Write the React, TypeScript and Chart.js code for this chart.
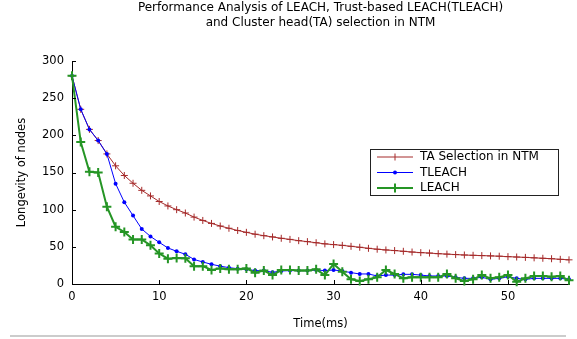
import React, { useEffect, useRef } from "react";
import { Chart, registerables } from "chart.js";

Chart.register(...registerables);

const titleLines = [
  "Performance Analysis of LEACH, Trust-based LEACH(TLEACH)",
  "and Cluster head(TA) selection in NTM",
];
const xAxisTitle = "Time(ms)";
const yAxisTitle = "Longevity of nodes";
const seriesNames = ["TA Selection in NTM", "TLEACH", "LEACH"];

const timeMs = [
  0, 1, 2, 3, 4, 5, 6, 7, 8, 9, 10, 11, 12, 13, 14, 15, 16, 17, 18, 19, 20, 21, 22, 23, 24, 25, 26, 27, 28, 29,
  30, 31, 32, 33, 34, 35, 36, 37, 38, 39, 40, 41, 42, 43, 44, 45, 46, 47, 48, 49, 50, 51, 52, 53, 54, 55, 56, 57,
];

const taSelection = [
  280, 235, 208, 193, 175, 159, 146, 135.5, 126, 118.5, 111, 105, 100, 95.5, 90, 85.5, 81.5, 78, 75, 72, 69.5, 67,
  65, 63.3, 61.5, 60, 58.3, 57, 55.5, 54, 53, 52, 50.7, 49.4, 48, 46.8, 45.8, 45, 44, 43, 42.2, 41.6, 40.8, 40.2,
  39.6, 39, 38.6, 38.2, 37.8, 37.4, 36.8, 36.3, 35.8, 35.2, 34.6, 34, 33.2, 32.5,
];

const tleach = [
  280, 235, 208, 193, 175, 135, 110, 92, 74, 64, 56, 48.5, 44, 40, 33, 29.6, 26.5, 24, 22, 20.6, 19.7, 18, 18, 15.7,
  17.5, 18, 18, 18, 18.8, 18, 18.8, 17.5, 15.3, 13.5, 13.5, 10.8, 12, 12, 13, 13, 12, 10.8, 10.8, 10.7, 9, 7.6, 7.6,
  9, 6.3, 7.6, 9.8, 7.6, 6.3, 7.6, 7.6, 7.6, 7.6, 6.3,
];

const leach = [
  280, 191, 151, 150, 104, 77, 70, 60, 60, 52, 41, 34, 35, 34.5, 24, 24, 18.8, 21, 19.7, 19.7, 21, 15.2, 18, 12,
  18.8, 19, 18, 18, 19.7, 12, 27, 16.6, 6.3, 4, 6.3, 9, 18.8, 13.5, 7.6, 9, 9, 9, 9, 13.5, 7.6, 4, 6.3, 12, 7.6, 9,
  12, 3, 7.6, 10.7, 10.7, 9.8, 10.7, 5,
];

const xTicks = [0, 10, 20, 30, 40, 50];
const yTicks = [0, 50, 100, 150, 200, 250, 300];

const RED = "#a52a2a";
const BLUE = "#0000ff";
const GREEN = "#259525";
const FONT = '"DejaVu Sans", sans-serif';

const overlayPlugin = {
  id: "overlay",
  afterDraw(chart: any) {
    const ctx = chart.ctx as CanvasRenderingContext2D;
    const area = chart.chartArea;
    const xs = chart.scales.x;
    const ys = chart.scales.y;
    ctx.save();
    // inner tick marks
    ctx.strokeStyle = "#000";
    ctx.lineWidth = 1;
    xTicks.forEach((v) => {
      const px = Math.round(xs.getPixelForValue(v)) + 0.5;
      ctx.beginPath();
      ctx.moveTo(px, area.bottom);
      ctx.lineTo(px, area.bottom - 4);
      ctx.stroke();
    });
    yTicks.forEach((v) => {
      const py = Math.round(ys.getPixelForValue(v)) + 0.5;
      ctx.beginPath();
      ctx.moveTo(area.left, py);
      ctx.lineTo(area.left + 4, py);
      ctx.stroke();
    });

    // title
    const cx = (area.left + area.right) / 2;
    ctx.fillStyle = "#000";
    ctx.font = `12px ${FONT}`;
    ctx.textAlign = "center";
    ctx.textBaseline = "middle";
    ctx.fillText(titleLines[0], cx, 8);
    ctx.fillText(titleLines[1], cx, 23);

    // axis titles
    ctx.font = `11.5px ${FONT}`;
    ctx.fillText(xAxisTitle, cx, 324);
    ctx.save();
    ctx.translate(22, (area.top + area.bottom) / 2);
    ctx.rotate(-Math.PI / 2);
    ctx.fillText(yAxisTitle, 0, 0);
    ctx.restore();

    // legend
    const bx = 370.5, by = 149.5, bw = 188, bh = 46;
    ctx.fillStyle = "#fff";
    ctx.fillRect(bx, by, bw, bh);
    ctx.strokeStyle = "#222";
    ctx.lineWidth = 1;
    ctx.strokeRect(bx, by, bw, bh);
    const rows = [157, 172.5, 188];
    const colors = [RED, BLUE, GREEN];
    const widths = [1, 1, 2];
    rows.forEach((ry, i) => {
      ctx.strokeStyle = colors[i];
      ctx.lineWidth = widths[i];
      ctx.beginPath();
      ctx.moveTo(377, ry);
      ctx.lineTo(413, ry);
      ctx.stroke();
      const mx = 395;
      if (i === 1) {
        ctx.fillStyle = colors[i];
        ctx.beginPath();
        ctx.arc(mx, ry, 2, 0, Math.PI * 2);
        ctx.fill();
      } else {
        const r = i === 0 ? 3.5 : 4.5;
        ctx.beginPath();
        ctx.moveTo(mx, ry - r);
        ctx.lineTo(mx, ry + r);
        ctx.stroke();
      }
      ctx.fillStyle = "#000";
      ctx.font = `12px ${FONT}`;
      ctx.textAlign = "left";
      ctx.textBaseline = "middle";
      ctx.fillText(seriesNames[i], 420, ry);
    });

    // bottom grey rule
    ctx.strokeStyle = "#cccccc";
    ctx.lineWidth = 2;
    ctx.beginPath();
    ctx.moveTo(10, 336);
    ctx.lineTo(566, 336);
    ctx.stroke();
    ctx.restore();
  },
};

export default function App() {
  const canvasRef = useRef<HTMLCanvasElement | null>(null);

  useEffect(() => {
    const canvas = canvasRef.current;
    if (!canvas) return;
    const toXY = (arr: number[]) => arr.map((v, i) => ({ x: timeMs[i], y: v }));
    const chart = new Chart(canvas, {
      type: "line",
      data: {
        datasets: [
          {
            label: seriesNames[0],
            data: toXY(taSelection),
            borderColor: RED,
            backgroundColor: RED,
            borderWidth: 1,
            pointStyle: "cross",
            pointRadius: 3.5,
            pointBorderWidth: 1,
            pointBorderColor: RED,
            tension: 0,
            clip: false,
            order: 2,
          },
          {
            label: seriesNames[1],
            data: toXY(tleach),
            borderColor: BLUE,
            backgroundColor: BLUE,
            borderWidth: 1,
            pointStyle: "circle",
            pointRadius: 2,
            pointBorderWidth: 0,
            pointBackgroundColor: BLUE,
            tension: 0,
            clip: false,
            order: 1,
          },
          {
            label: seriesNames[2],
            data: toXY(leach),
            borderColor: GREEN,
            backgroundColor: GREEN,
            borderWidth: 2,
            pointStyle: "cross",
            pointRadius: 4.5,
            pointBorderWidth: 2,
            pointBorderColor: GREEN,
            tension: 0,
            clip: false,
            order: 0,
          },
        ],
      },
      options: {
        responsive: false,
        animation: false,
        layout: { padding: { left: 0, top: 61, right: 8, bottom: 0 } },
        plugins: {
          legend: { display: false },
          title: { display: false },
          tooltip: { enabled: false },
        },
        scales: {
          x: {
            type: "linear",
            min: 0,
            max: 57,
            grid: { display: false, drawTicks: false },
            border: { display: true, color: "#000", width: 1 },
            ticks: {
              stepSize: 10,
              includeBounds: false,
              padding: 6,
              color: "#000",
              font: { family: FONT, size: 11.5 },
              maxRotation: 0,
            },
            afterFit: (s: any) => {
              s.height = 55;
            },
          },
          y: {
            type: "linear",
            min: 0,
            max: 300,
            grid: { display: false, drawTicks: false },
            border: { display: true, color: "#000", width: 1 },
            ticks: {
              stepSize: 50,
              padding: 8,
              color: "#000",
              font: { family: FONT, size: 11.5 },
            },
            afterFit: (s: any) => {
              s.width = 72;
            },
          },
        },
      } as any,
      plugins: [overlayPlugin],
    });
    return () => chart.destroy();
  }, []);

  return (
    <canvas
      ref={canvasRef}
      width={577}
      height={339}
      style={{ position: "absolute", left: 0, top: 0, width: 577, height: 339, display: "block" }}
    />
  );
}
